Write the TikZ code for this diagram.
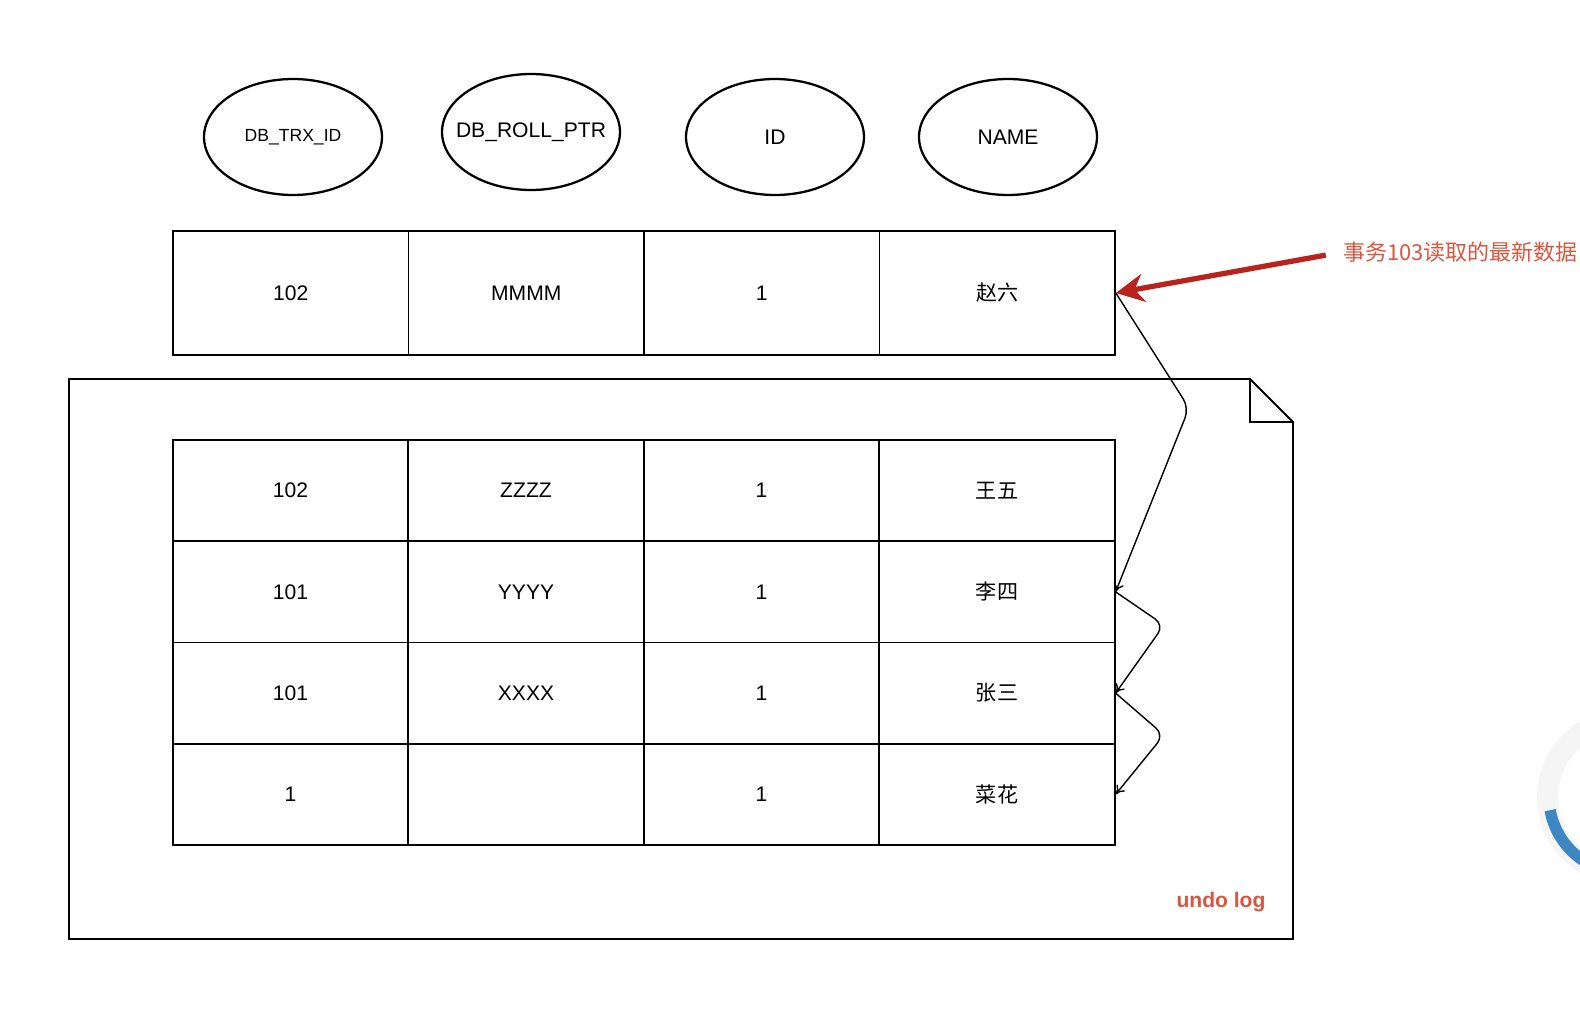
\documentclass[tikz,border=0pt]{standalone}
\usepackage{fontspec}
\setmainfont{Liberation Sans}
\newfontfamily\cjk{Noto Sans CJK SC}
\usetikzlibrary{arrows.meta,shapes.geometric}
\definecolor{hl}{HTML}{D9573F}
\definecolor{arr}{HTML}{B8231E}
\definecolor{spinblue}{HTML}{3D87C4}
\newcommand{\fs}[1]{\fontsize{#1}{#1}\selectfont}
\tikzset{
  field/.style={draw,ellipse,line width=1.3pt,minimum width=3.56cm,minimum height=2.32cm,inner sep=0pt,font=\fs{12}},
  cell/.style={draw,line width=1pt,minimum width=4.71cm,inner sep=0pt,font=\fs{12}},
  toprow/.style={cell,minimum height=2.48cm},
  logrow/.style={cell,minimum height=2.025cm},
  ar/.style={-{To[length=5pt,width=6pt]},line width=0.8pt,rounded corners=6pt},
  redar/.style={-{Stealth[length=16pt,width=16pt]},line width=3pt,draw=arr,shorten <=0.35cm},
}

\begin{document}
\begin{tikzpicture}[x=0.02cm,y=-0.02cm]
  \useasboundingbox[fill=white] (0,0) rectangle (1580,1034);
  % column headers
  \node[field,font=\fs{10}] (f1) at (293,137) {DB\_TRX\_ID};
  \node[field,inner xsep=-0.3cm] (f2) at (531,132) {DB\_ROLL\_PTR};
  \node[field] (f3) at (775,137) {ID};
  \node[field] (f4) at (1008,137) {NAME};
  % current record
  \foreach \v [count=\i] in {102,MMMM,1,{\cjk 赵六}}
    \node[toprow] (t\i) at ({173+235.5*(\i-0.5)},293) {\v};
  % undo log page
  \draw[line width=1.1pt] (69,379) -- (1250,379) -- (1293,422) -- (1293,939) -- (69,939) -- cycle;
  \draw[line width=1.1pt] (1250,379) -- (1250,422) -- (1293,422);
  \foreach \a/\b/\n [count=\j] in {102/ZZZZ/王五,101/YYYY/李四,101/XXXX/张三,1//菜花}{
    \node[logrow] (u\j-1) at (290.5,{440+101.25*(\j-0.5)}) {\a};
    \node[logrow] (u\j-2) at (526,{440+101.25*(\j-0.5)}) {\b};
    \node[logrow] (u\j-3) at (761.5,{440+101.25*(\j-0.5)}) {1};
    \node[logrow] (u\j-4) at (997,{440+101.25*(\j-0.5)}) {\cjk \n};
  }
  \node[font=\bfseries\fs{12},text=hl] (undo) at (1221,902) {undo log};
  % version chain
  \draw[ar] (t4.east) -- (1189,408) -- (u2-4.east);
  \draw[ar] (u2-4.east) -- (1164,625) -- (u3-4.east);
  \draw[ar] (u3-4.east) -- (1164,735) -- (u4-4.east);
  % read by trx 103
  \node[anchor=west,inner sep=0pt,text=hl,font=\cjk\fs{12.5}] (lbl) at (1343,252) {事务103读取的最新数据};
  \draw[redar] (lbl.west) -- (t4.east);
  % loading ring
  \coordinate (spin) at (1625,797);
  \draw[gray!8,line width=12pt] (spin) circle[radius=1.55cm];
  \draw[spinblue,line width=6.5pt] ([shift={(190:1.52cm)}]spin) arc[start angle=190,end angle=245,radius=1.52cm];
\end{tikzpicture}
\end{document}
